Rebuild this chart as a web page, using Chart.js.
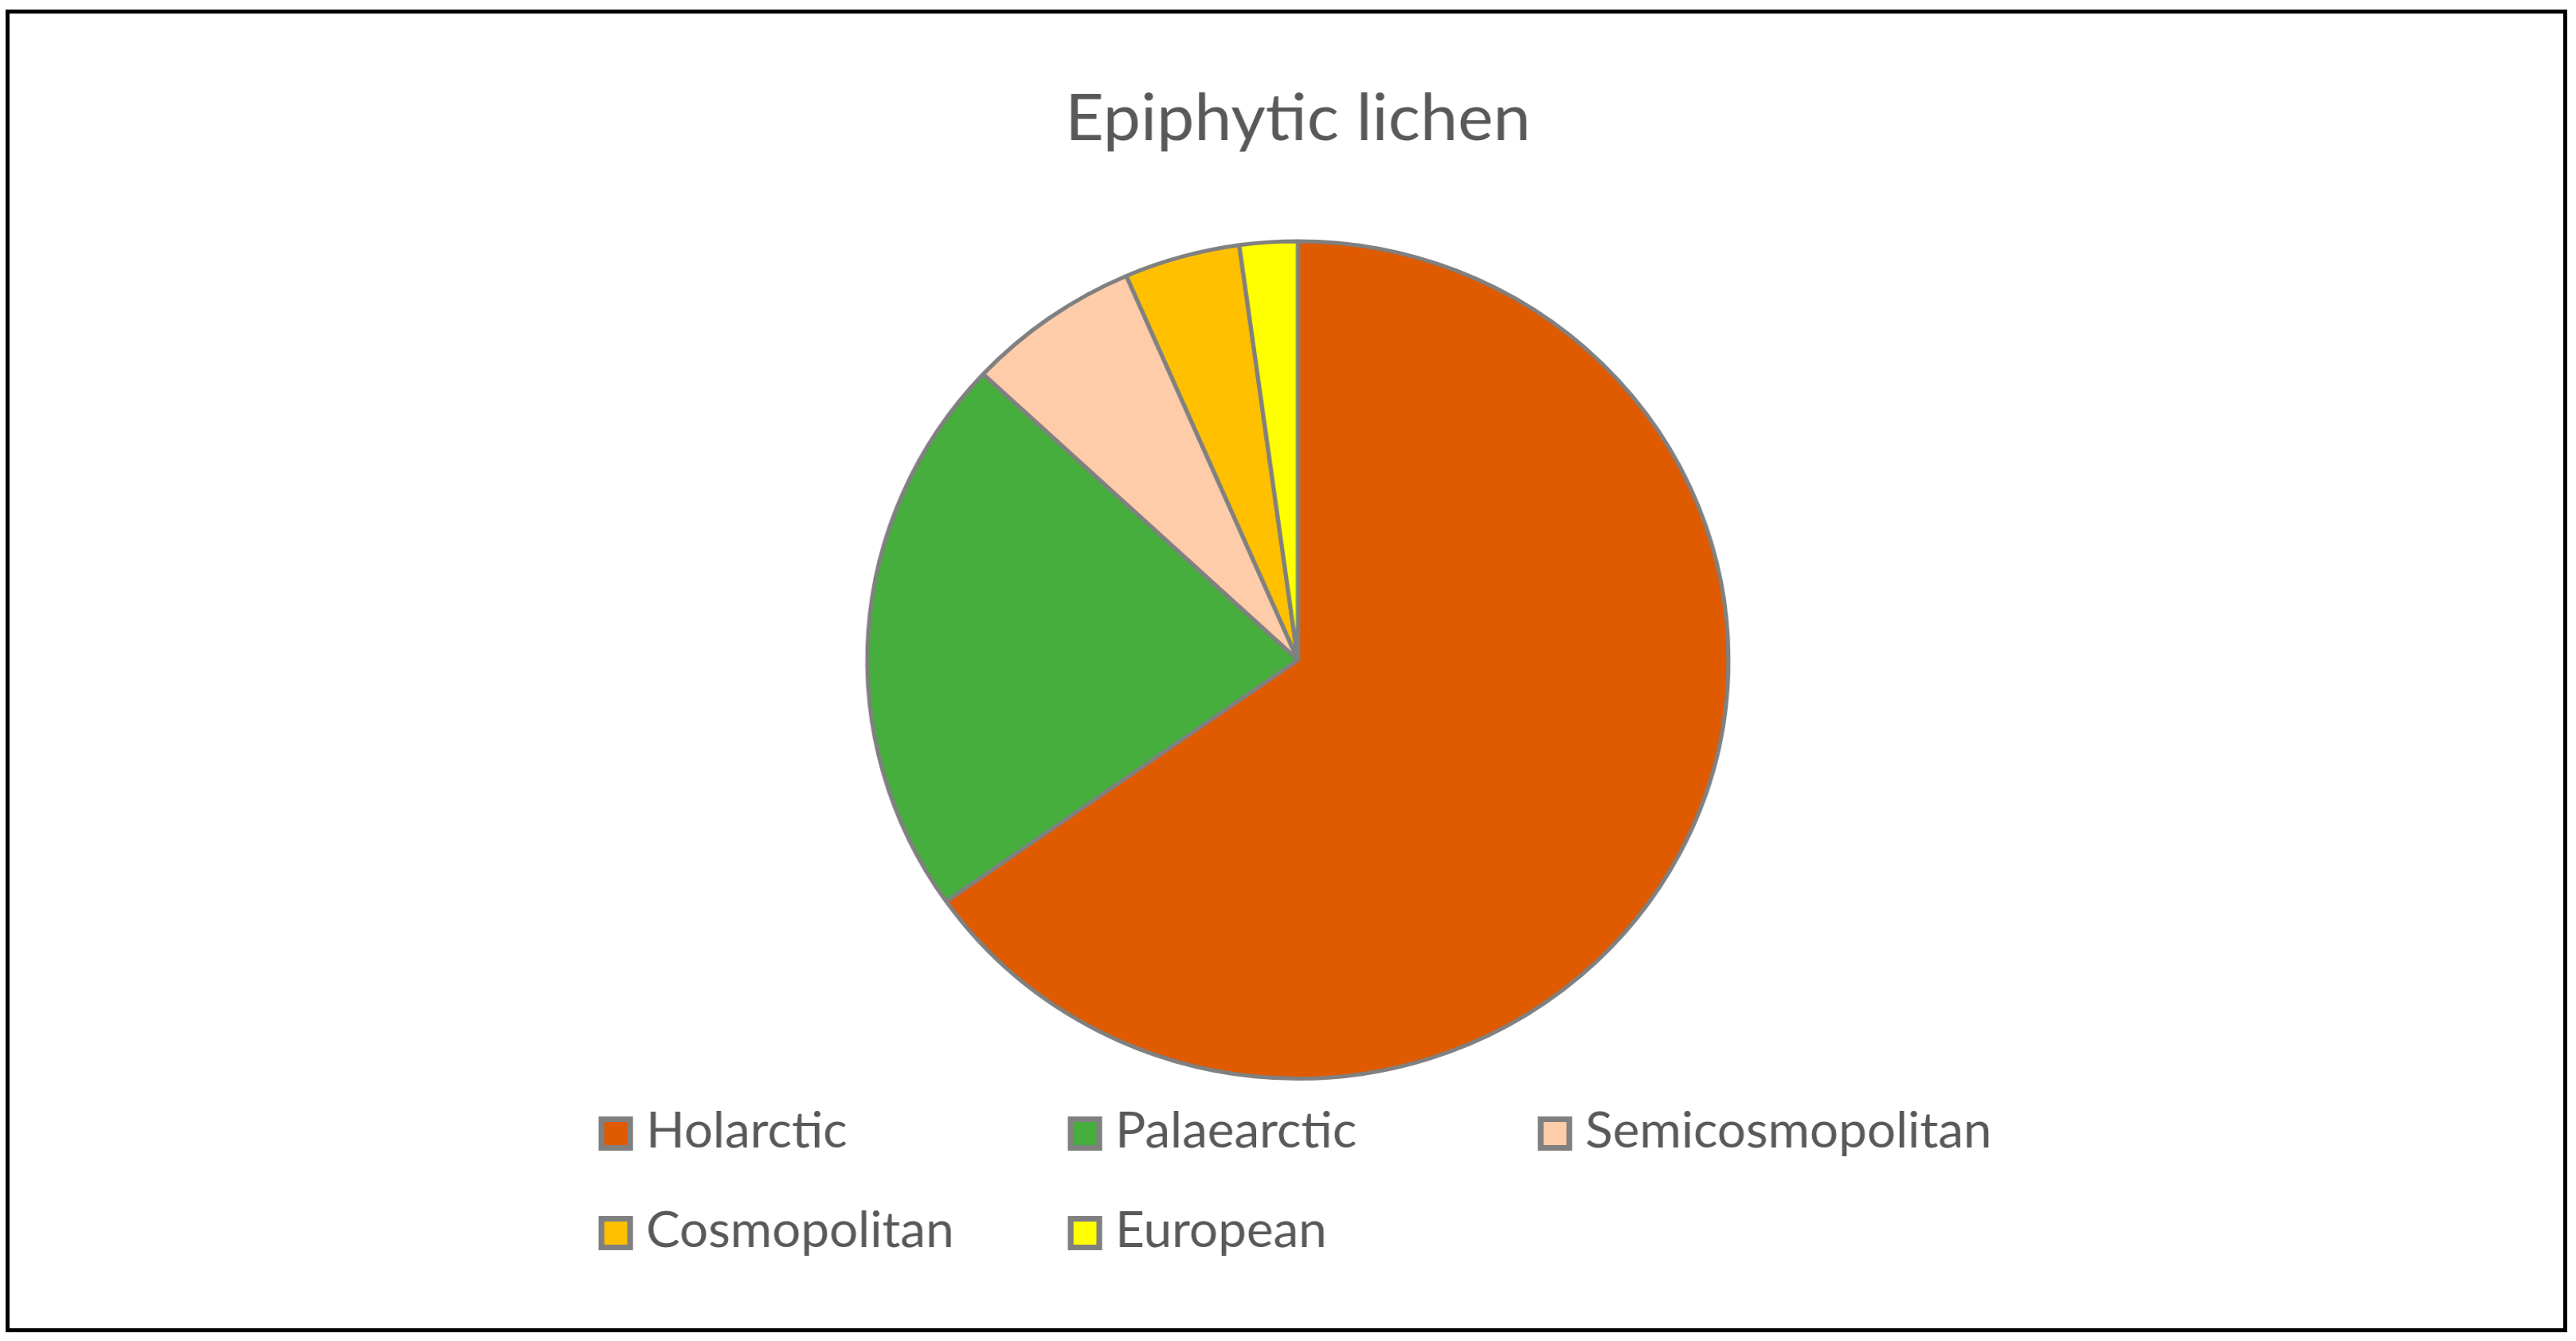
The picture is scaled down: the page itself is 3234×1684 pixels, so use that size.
<!DOCTYPE html>
<html>
<head>
<meta charset="utf-8">
<title>Epiphytic lichen</title>
<script src="https://cdn.jsdelivr.net/npm/chart.js@4/dist/chart.umd.min.js"></script>
<style>
  html, body { margin: 0; padding: 0; background: #fff; }
  body { width: 3234px; height: 1684px; position: relative; overflow: hidden; }
  #chart { position: absolute; left: 0; top: 0; transform-origin: 0 0; transform: scaleX(1.028); }
  .frame { position: absolute; left: 7px; top: 12px; width: 3216px; height: 1661px;
           box-sizing: border-box; border: 5px solid #000; pointer-events: none; }
</style>
</head>
<body>
<canvas id="chart" width="3146" height="1684"></canvas>
<div class="frame"></div>
<script>
const categories = ['Holarctic', 'Palaearctic', 'Semicosmopolitan', 'Cosmopolitan', 'European'];
const speciesCount = [30, 10, 3, 2, 1];
const sliceColors = ['#E05A00', '#46AE3C', '#FFCCAA', '#FFC000', '#FFFF00'];

const textGrey = '#595959';
const edgeGrey = '#808080';

// legend laid out as a grid like the original (3 columns, 2 rows)
const gridLegend = {
    id: 'gridLegend',
    afterDraw(chart) {
        const ctx = chart.ctx;
        const colX = [731, 1304, 1878];
        const rowY = [1402, 1527];
        const box = 43;
        const ds = chart.data.datasets[0];
        ctx.save();
        ctx.font = '62px Lato';
        ctx.textBaseline = 'alphabetic';
        ctx.textAlign = 'left';
        chart.data.labels.forEach((label, i) => {
            const x = colX[i % 3];
            const y = rowY[Math.floor(i / 3)];
            ctx.fillStyle = edgeGrey;
            ctx.fillRect(x, y, box - 1, box);
            ctx.fillStyle = ds.backgroundColor[i];
            ctx.fillRect(x + 7, y + 7, box - 15, box - 14);
            ctx.fillStyle = textGrey;
            ctx.fillText(label, x + 58, y + 39);
        });
        ctx.restore();
    }
};

new Chart(document.getElementById('chart').getContext('2d'), {
    type: 'pie',
    data: {
        labels: categories,
        datasets: [{
            data: speciesCount,
            backgroundColor: sliceColors,
            borderColor: edgeGrey,
            borderWidth: 5
        }]
    },
    options: {
        responsive: false,
        animation: false,
        layout: {
            padding: { left: 885, right: 861, top: 0, bottom: 327 }
        },
        plugins: {
            legend: { display: false },
            tooltip: { enabled: false },
            title: {
                display: true,
                text: 'Epiphytic lichen',
                color: textGrey,
                font: { family: 'Lato', size: 82, weight: 'normal' },
                padding: { top: 100, bottom: 102 }
            }
        }
    },
    plugins: [gridLegend]
});
</script>
</body>
</html>
